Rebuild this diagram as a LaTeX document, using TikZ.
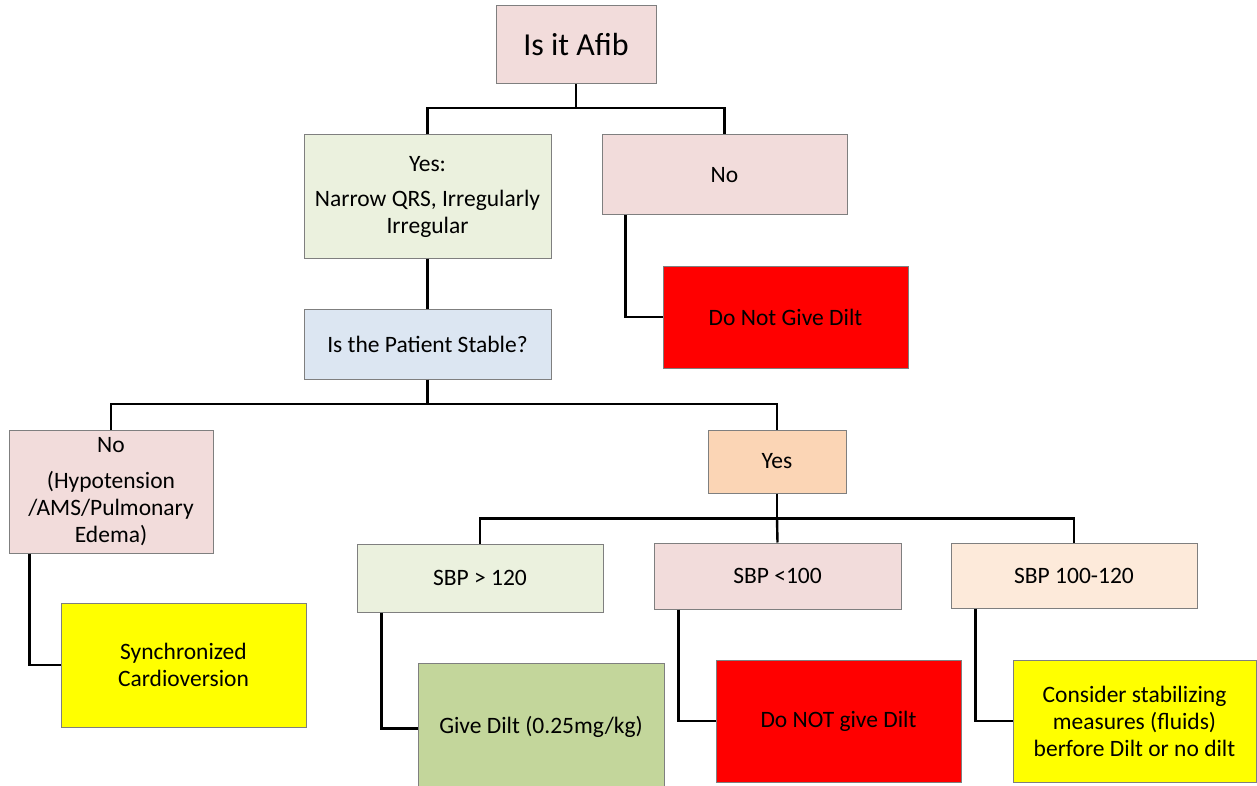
\documentclass[tikz,border=0pt]{standalone}
\usepackage{fontspec}
\setmainfont{Carlito}
\definecolor{pinkc}{HTML}{F2DCDB}
\definecolor{greenl}{HTML}{EBF1DE}
\definecolor{bluel}{HTML}{DCE6F2}
\definecolor{peach}{HTML}{FBD5B5}
\definecolor{orangel}{HTML}{FDEADA}
\definecolor{oliveg}{HTML}{C3D69B}
\definecolor{redc}{HTML}{FF0000}
\definecolor{yellowc}{HTML}{FFFF00}
\definecolor{borderc}{HTML}{7F7F7F}
\tikzset{
  box/.style={draw=borderc, line width=1pt, rectangle, inner sep=1pt, align=center,
    font=\fontsize{23.5}{27}\selectfont, text=black},
  conn/.style={line width=2.4pt, black},
}
\begin{document}
\begin{tikzpicture}[x=1pt,y=-1pt]
\useasboundingbox (0,0) rectangle (1257,786);
\fill[white] (0,0) rectangle (1257,786);

\node[box, fill=pinkc, minimum width=160pt, minimum height=78pt, font=\fontsize{32}{38}\selectfont] (afib) at (576,45) {Is it Afib};
\node[box, fill=greenl, minimum width=247pt, minimum height=123pt] (yes) at (427.5,196.5) {Yes:\\[8pt]Narrow QRS, Irregularly\\Irregular};
\node[box, fill=pinkc, minimum width=245pt, minimum height=80pt] (no) at (724.5,175) {No};
\node[box, fill=redc, minimum width=245pt, minimum height=102pt] (dont) at (785.5,317) {Do Not Give Dilt};
\node[box, fill=bluel, minimum width=247pt, minimum height=70pt] (stable) at (427.5,344) {Is the Patient Stable?};
\node[box, fill=pinkc, minimum width=204pt, minimum height=123pt] (no2) at (111,491.5) {No\\[9pt](Hypotension\\/AMS/Pulmonary\\Edema)};
\node[box, fill=yellowc, minimum width=245pt, minimum height=124pt] (sync) at (183.5,665) {Synchronized\\Cardioversion};
\node[box, fill=peach, minimum width=138pt, minimum height=63pt] (yes2) at (777,461.5) {Yes};
\node[box, fill=greenl, minimum width=246pt, minimum height=68pt] (sbp1) at (480,578) {SBP > 120};
\node[box, fill=pinkc, minimum width=247pt, minimum height=66pt] (sbp2) at (777.5,576) {SBP <100};
\node[box, fill=orangel, minimum width=246pt, minimum height=65pt] (sbp3) at (1074,575.5) {SBP 100-120};
\node[box, fill=oliveg, minimum width=246pt, minimum height=127pt] (give) at (541,726.5) {Give Dilt (0.25mg/kg)};
\node[box, fill=redc, minimum width=245pt, minimum height=122pt] (donot) at (838.5,721) {Do NOT give Dilt};
\node[box, fill=yellowc, minimum width=243pt, minimum height=122pt] (consider) at (1134.5,721) {Consider stabilizing\\measures (fluids)\\berfore Dilt or no dilt};

\coordinate (b1) at (576,108);
\draw[conn] (afib.south) -- (b1);
\draw[conn] (yes.north) |- (b1) -| (no.north);
\draw[conn] (yes.south) -- (stable.north);

\coordinate (b2) at (427.5,404);
\draw[conn] (stable.south) -- (b2);
\draw[conn] (no2.north) |- (b2) -| (yes2.north);

\coordinate (b3) at (777,518.5);
\draw[conn] (yes2.south) -- (b3);
\draw[conn] (sbp1.north) |- (b3) -| (sbp3.north);
\draw[conn] (b3) -- (sbp2.north);

\draw[conn] ([xshift=24pt]no.south west) |- (dont.west);
\draw[conn] ([xshift=21pt]no2.south west) |- (sync.west);
\draw[conn] ([xshift=25pt]sbp1.south west) |- ([yshift=-2pt]give.west);
\draw[conn] ([xshift=25pt]sbp2.south west) |- (donot.west);
\draw[conn] ([xshift=25pt]sbp3.south west) |- (consider.west);
\end{tikzpicture}
\end{document}
